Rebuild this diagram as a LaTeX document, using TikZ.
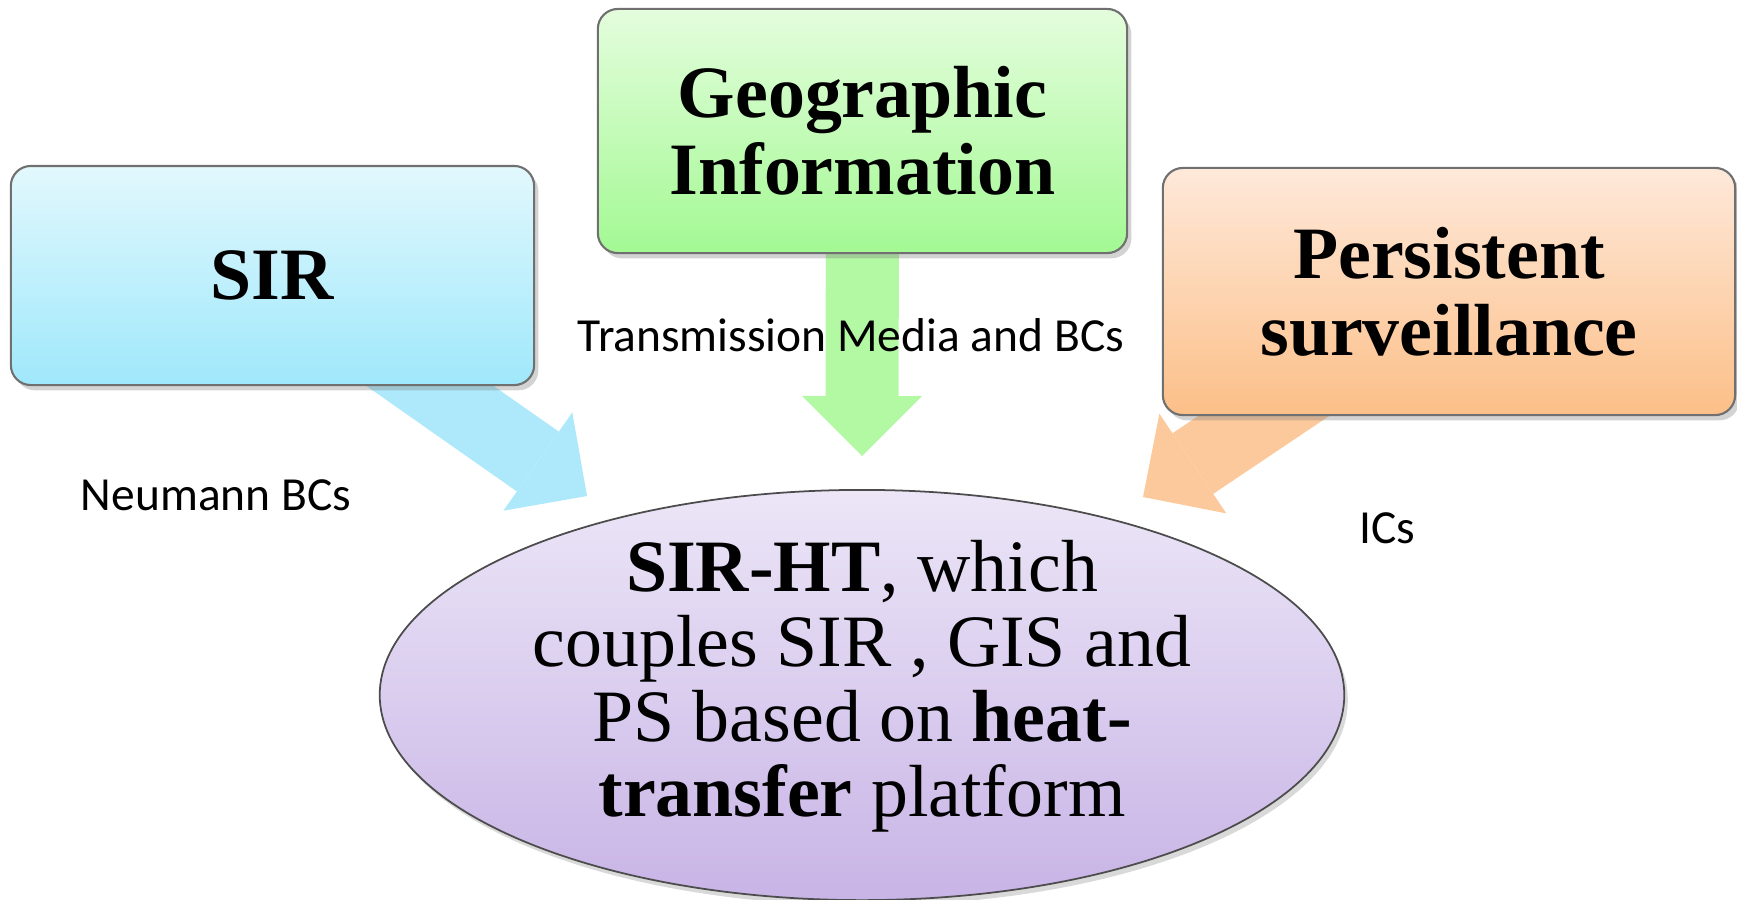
\documentclass[tikz,border=0pt]{standalone}
\usepackage{fontspec}
\setmainfont{Liberation Serif}
\newfontfamily\labelfont{Carlito}
\usetikzlibrary{arrows.meta,shadows,backgrounds,shapes.geometric}

\definecolor{sirtop}{HTML}{E2F8FD}
\definecolor{sirbot}{HTML}{9FE8FB}
\definecolor{geotop}{HTML}{E4FDDD}
\definecolor{geobot}{HTML}{A3F993}
\definecolor{pstop}{HTML}{FEE9DA}
\definecolor{psbot}{HTML}{FCBF88}
\definecolor{httop}{HTML}{ECE6F7}
\definecolor{htbot}{HTML}{C8B4E6}
\definecolor{sirarrow}{HTML}{ADE9FB}
\definecolor{geoarrow}{HTML}{B3F9A4}
\definecolor{psarrow}{HTML}{FCC99C}
\definecolor{boxline}{HTML}{707070}

\begin{document}
\begin{tikzpicture}[x=0.01cm,y=-0.01cm,
box/.style={rectangle,rounded corners=0.2cm,draw=boxline,line width=0.6pt,
  align=center,font=\fontsize{21}{22}\selectfont\bfseries,
  drop shadow={opacity=0.35,shadow xshift=1.2pt,shadow yshift=-1.5pt}},
feed/.style={line width=7.3mm,-{Triangle[width=12mm,length=6mm,line width=0pt]}},
tag/.style={font=\labelfont\fontsize{13.5}{16}\selectfont}]

\useasboundingbox (0,0) rectangle (1737,899);

\node (sir) [box,top color=sirtop,bottom color=sirbot,
  minimum width=5.23cm,minimum height=2.19cm] at (272.5,275.5) {SIR};
\node (geo) [box,top color=geotop,bottom color=geobot,
  minimum width=5.29cm,minimum height=2.44cm] at (862.5,131) {Geographic\\Information};
\node (ps) [box,top color=pstop,bottom color=psbot,
  minimum width=5.72cm,minimum height=2.47cm] at (1449,291.5) {Persistent\\surveillance};

\node (ht) [ellipse,draw=black!70,line width=0.5pt,top color=httop,bottom color=htbot,
  minimum width=9.64cm,minimum height=4.1cm,
  drop shadow={opacity=0.3,shadow xshift=1pt,shadow yshift=-1.5pt}] at (862,695) {};
\node (httext) [align=center,font=\fontsize{21}{21.3}\selectfont] at (862,686)
  {\textbf{SIR-HT}, which\\couples SIR , GIS and\\PS based on \textbf{heat-}\\\textbf{transfer} platform};

\coordinate (sirtip) at (587,496);
\coordinate (geotip) at (862,456);
\coordinate (pstip) at (1143,497);

\begin{pgfonlayer}{background}
\draw [feed,draw=sirarrow] (sir.center) -- (sirtip);
\draw [feed,draw=geoarrow] (geo.center) -- (geotip);
\draw [feed,draw=psarrow] (ps.center) -- (pstip);
\end{pgfonlayer}

\node (media) [tag] at (851,335) {Transmission Media and BCs};
\node (neumann) [tag] at (216,495) {Neumann BCs};
\node (ics) [tag] at (1387,528) {ICs};

\end{tikzpicture}
\end{document}
